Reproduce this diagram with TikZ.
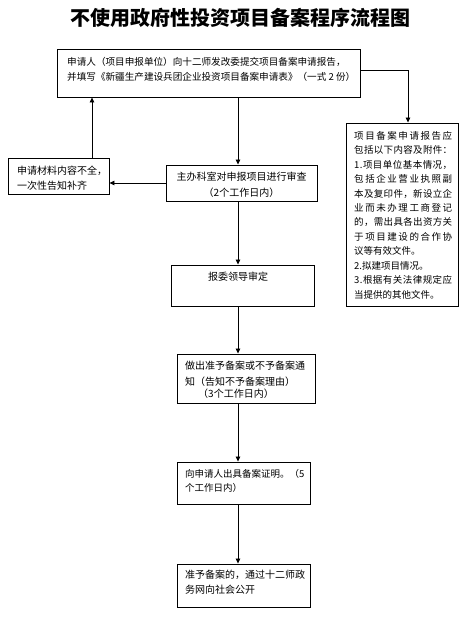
\documentclass[tikz,border=0pt]{standalone}
\usepackage{fontspec}
\setmainfont{Noto Sans CJK SC}
\usetikzlibrary{arrows.meta}
\def\jl#1{\makebox[98pt][s]{\jla#1\relax}}
\def\jla#1{#1\jlb}
\def\jlb#1{\ifx\relax#1\else\hfil#1\expandafter\jlb\fi}
\tikzset{
  box/.style={draw, line width=0.9pt, inner sep=0pt},
  txt/.style={inner sep=0pt, align=left, anchor=north west},
  arr/.style={line width=0.8pt, -{Triangle[length=5pt,width=4.5pt]}},
}
\begin{document}
\begin{tikzpicture}[x=1pt,y=-1pt]
\useasboundingbox[fill=white] (0,0) rectangle (471,623);
% title
\node[inner sep=0pt, font=\fontsize{20}{24}\selectfont\bfseries] (T) at (240,18) {不使用政府性投资项目备案程序流程图};
% boxes
\node[box, minimum width=303pt, minimum height=48pt] (B1) at (208.5,73) {};
\node[box, minimum width=112pt, minimum height=183pt] (B7) at (402,214.5) {};
\node[box, minimum width=101pt, minimum height=36pt] (B8) at (58.5,176) {};
\node[box, minimum width=151pt, minimum height=36pt] (B2) at (241.5,183) {};
\node[box, minimum width=143pt, minimum height=41pt] (B3) at (242.5,285.5) {};
\node[box, minimum width=138pt, minimum height=49pt] (B4) at (246,378.5) {};
\node[box, minimum width=133pt, minimum height=42pt] (B5) at (243.5,483) {};
\node[box, minimum width=133pt, minimum height=43pt] (B6) at (243.5,585.5) {};
% texts
\node[txt, font=\fontsize{9.6}{15}\selectfont] (t1) at (67,57) {申请人（项目申报单位）向十二师发改委提交项目备案申请报告，\\并填写《新疆生产建设兵团企业投资项目备案申请表》（一式 2 份）};
\node[txt, font=\fontsize{10}{15}\selectfont] (t8) at (17,166) {申请材料内容不全，\\一次性告知补齐};
\node[inner sep=0pt, align=center, anchor=north, font=\fontsize{10}{16}\selectfont] (t2) at (241.5,172) {主办科室对申报项目进行审查\\（2个工作日内）};
\node[inner sep=0pt, anchor=north, font=\fontsize{10}{15}\selectfont] (t3) at (238,272) {报委领导审定};
\node[txt, font=\fontsize{10}{15.7}\selectfont] (t4) at (185,361) {做出准予备案或不予备案通\\知（告知不予备案理由）\\[-4pt]\hspace*{13pt}（3个工作日内）};
\node[txt, font=\fontsize{9.5}{14}\selectfont] (t5) at (185,469) {向申请人出具备案证明。（5\\个工作日内）};
\node[txt, font=\fontsize{10}{15}\selectfont] (t6) at (185,570) {准予备案的，通过十二师政\\务网向社会公开};
\node[txt, font=\fontsize{9.5}{14.45}\selectfont] (t7) at (354,131) {\jl{项目备案申请报告应}\\\jl{包括以下内容及附件：}\\\jl{1.项目单位基本情况，}\\\jl{包括企业营业执照副}\\\jl{本及复印件，新设立企}\\\jl{业而未办理工商登记}\\\jl{的，需出具各出资方关}\\\jl{于项目建设的合作协}\\议等有效文件。\\2.拟建项目情况。\\\jl{3.根据有关法律规定应}\\当提供的其他文件。};
% connectors
\draw[arr] ([yshift=3pt]B1.east) -| ([xshift=6pt]B7.north);
\draw[arr] (B1.south -| B2.north) ++(-3.5,0) coordinate (a1) -- (a1 |- B2.north);
\draw[arr] (B2.west) -- (B2.west -| B8.east);
\draw[arr] ([xshift=33.5pt]B8.north) -- ([xshift=33.5pt]B8.north |- B1.south);
\draw[arr] (a1 |- B2.south) -- (a1 |- B3.north);
\draw[arr] (a1 |- B3.south) -- (a1 |- B4.north);
\draw[arr] (a1 |- B4.south) -- (a1 |- B5.north);
\draw[arr] (a1 |- B5.south) -- (a1 |- B6.north);
\end{tikzpicture}
\end{document}
